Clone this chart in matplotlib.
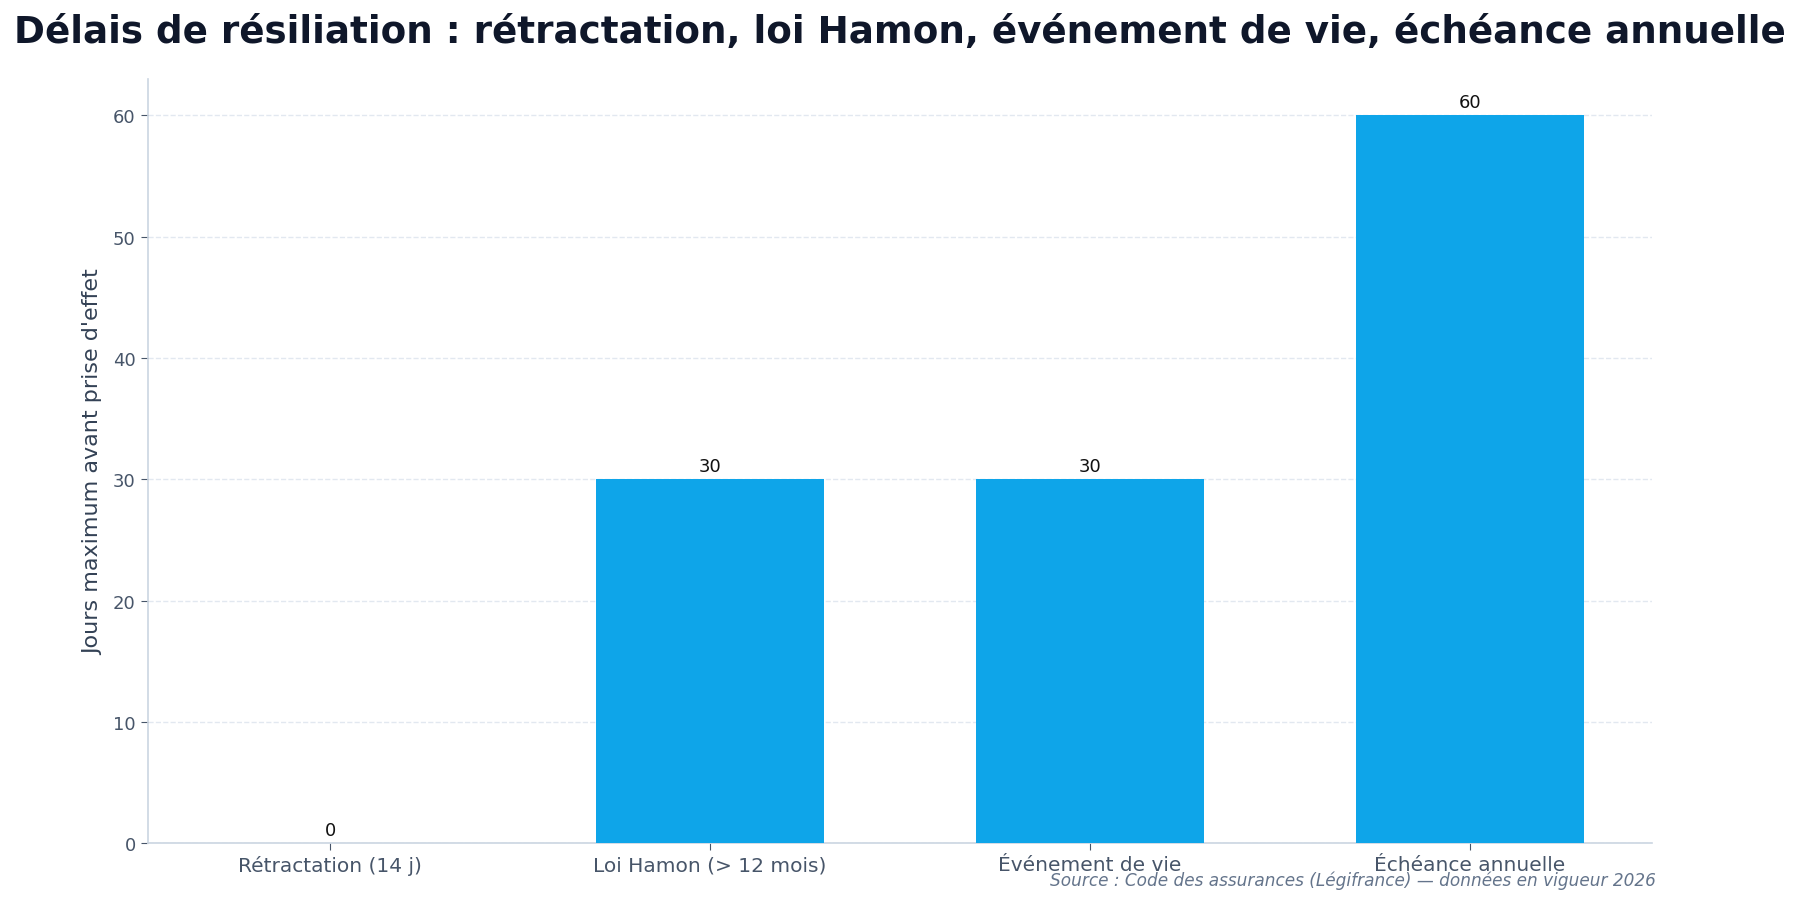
import numpy as np
import matplotlib.pyplot as plt

# --- Données ---
categories = ["Rétractation (14 j)", "Loi Hamon (> 12 mois)", "Événement de vie", "Échéance annuelle"]
jours = [0, 30, 30, 60]

titre = "Délais de résiliation : rétractation, loi Hamon, événement de vie, échéance annuelle"
source = "Source : Code des assurances (Légifrance) — données en vigueur 2026"

# --- Figure ---
fig, ax = plt.subplots(figsize=(18, 9.04), dpi=100)
fig.subplots_adjust(left=0.082, right=0.918, top=0.9115, bottom=0.066)

x = np.arange(len(categories))
bars = ax.bar(x, jours, width=0.6, color="#0ea5e9", zorder=3)
ax.bar_label(bars, labels=[str(v) for v in jours], padding=3, fontsize=13, color="#111111")

ax.set_xticks(x)
ax.set_xticklabels(categories, fontsize=14.5, color="#475569")
ax.set_ylim(0, 63)
ax.tick_params(axis="y", labelsize=13, labelcolor="#475569", color="#475569", length=5)
ax.tick_params(axis="x", color="#475569", length=5)
ax.set_ylabel("Jours maximum avant prise d'effet", fontsize=16, color="#334155", labelpad=7)

ax.grid(axis="y", linestyle="--", color="#e2e8f0", linewidth=1, zorder=0)
for s in ["top", "right"]:
    ax.spines[s].set_visible(False)
for s in ["left", "bottom"]:
    ax.spines[s].set_color("#cbd5e1")
    ax.spines[s].set_linewidth(1.2)

fig.suptitle(titre, fontsize=26.8, fontweight="bold", color="#0f172a", y=0.984)
fig.text(0.92, 0.015, source, ha="right", va="bottom", fontsize=12.2, style="italic", color="#64748b")

plt.savefig("out.png", dpi=100)
